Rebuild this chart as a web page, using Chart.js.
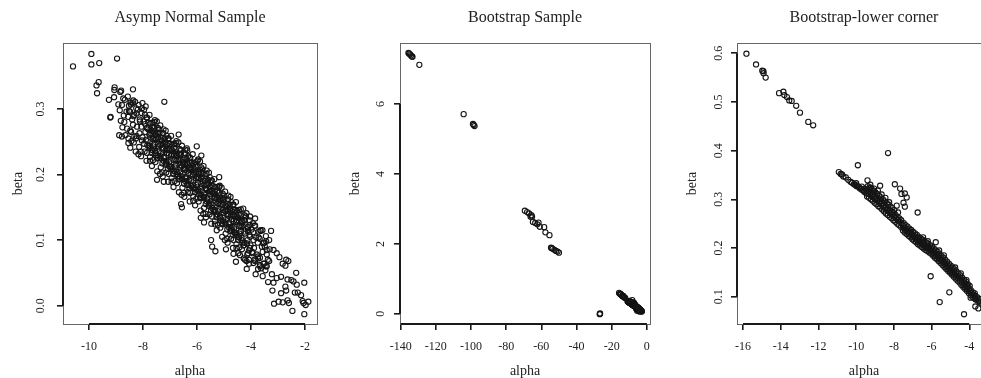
<!DOCTYPE html>
<html>
<head>
<meta charset="utf-8">
<script src="https://cdn.jsdelivr.net/npm/chart.js@4.4.0/dist/chart.umd.min.js"></script>
<style>
html, body { margin: 0; padding: 0; background: #fff; overflow: hidden; width: 981px; height: 378px; }
canvas { position: absolute; top: 0; }
</style>
</head>
<body>
<canvas id="p1" width="330" height="378" style="left:0px"></canvas>
<canvas id="p2" width="330" height="378" style="left:330px"></canvas>
<canvas id="p3" width="340" height="378" style="left:660px"></canvas>
<script>
// ---- data: [alpha, beta] ----
var asympSample = [
  [-10.59,.365],[-9.91,.384],[-9.91,.368],[-9.62,.370],[-8.96,.377],[-9.64,.341],[-9.72,.336],[-9.70,.324],
  [-9.05,.333],[-9.06,.329],[-9.26,.314],[-9.21,.287],[-9.20,.288],[-8.91,.307],[-9.07,.318],[-8.81,.328],
  [-8.37,.330],[-7.21,.311],[-8.78,.258],[-8.46,.310],[-8.02,.309],[-7.90,.304],[-6.01,.243],[-6.38,.240],
  [-6.68,.261],[-5.84,.229],[-7.48,.192],[-7.23,.189],[-6.59,.155],[-6.56,.150],[-5.48,.100],[-5.44,.090],
  [-5.32,.083],[-4.93,.086],[-5.86,.134],[-5.74,.127],[-5.18,.196],[-4.17,.141],[-3.85,.133],[-3.65,.115],
  [-3.26,.114],[-4.16,.056],[-4.56,.067],[-3.83,.048],[-3.57,.045],[-3.17,.035],[-3.21,.023],[-3.15,.003],
  [-2.98,.006],[-2.89,.019],[-2.83,.005],[-2.70,.023],[-2.65,.040],[-2.73,.029],[-2.89,.044],[-2.95,.074],
  [-2.83,.064],[-2.70,.070],[-2.62,.068],[-2.73,.061],[-2.51,.039],[-2.43,.037],[-2.33,.050],[-2.31,.032],
  [-2.38,.020],[-2.27,.020],[-2.15,.016],[-2.47,-.008],[-2.60,.004],[-2.65,.008],[-2.03,.035],[-2.03,-.013],
  [-2.06,.004],[-1.98,.001],[-1.88,.006],[-2.09,.007],[-3.42,.085],[-3.17,.085],[-3.05,.080],[-3.33,.100],
  [-3.49,.090],[-3.74,.075],[-3.91,.065],[-3.67,.060],[-3.42,.060],[-3.23,.048],[-3.05,.042],[-3.38,.070],
  [-4.11,.080],[-4.22,.070],[-4.41,.077],[-4.65,.079],
  [-8.88,.260],[-8.76,.272],[-8.82,.282],[-8.71,.290],[-8.86,.298],[-8.78,.306],[-8.73,.316],[-8.84,.326],
  [-8.54,.248],[-8.65,.260],[-8.59,.270],[-8.69,.280],[-8.55,.288],[-8.61,.296],[-8.52,.305],[-8.67,.314],
  [-8.43,.251],[-8.32,.258],[-8.47,.267],[-8.37,.276],[-8.40,.284],[-8.48,.296],[-8.35,.289],[-8.38,.309],
  [-8.17,.231],[-8.26,.255],[-8.13,.263],[-8.22,.273],[-8.11,.281],[-8.24,.293],[-8.19,.299],[-8.29,.311],
  [-8.08,.235],[-7.96,.247],[-8.02,.257],[-7.91,.265],[-8.06,.273],[-7.98,.281],[-7.93,.291],[-8.04,.301],
  [-7.74,.221],[-7.85,.233],[-7.79,.243],[-7.89,.253],[-7.75,.261],[-7.81,.269],[-7.72,.278],[-7.87,.287],
  [-7.63,.222],[-7.52,.229],[-7.67,.238],[-7.57,.247],[-7.60,.255],[-7.68,.267],[-7.55,.260],[-7.58,.280],
  [-7.37,.201],[-7.46,.225],[-7.33,.233],[-7.42,.243],[-7.31,.251],[-7.44,.263],[-7.39,.269],[-7.49,.281],
  [-7.28,.203],[-7.16,.215],[-7.22,.225],[-7.11,.233],[-7.26,.241],[-7.18,.249],[-7.13,.259],[-7.24,.269],
  [-6.94,.189],[-7.05,.201],[-6.99,.211],[-7.09,.221],[-6.95,.229],[-7.01,.237],[-6.92,.246],[-7.07,.255],
  [-6.83,.190],[-6.72,.197],[-6.87,.206],[-6.77,.215],[-6.80,.223],[-6.88,.235],[-6.75,.228],[-6.78,.248],
  [-6.57,.169],[-6.66,.193],[-6.53,.201],[-6.62,.211],[-6.51,.219],[-6.64,.231],[-6.59,.237],[-6.69,.249],
  [-6.48,.172],[-6.36,.184],[-6.42,.194],[-6.31,.202],[-6.46,.210],[-6.38,.218],[-6.33,.228],[-6.44,.238],
  [-6.14,.160],[-6.25,.172],[-6.19,.182],[-6.29,.192],[-6.15,.200],[-6.21,.208],[-6.12,.217],[-6.27,.226],
  [-6.03,.163],[-5.92,.170],[-6.07,.179],[-5.97,.188],[-6.00,.196],[-6.08,.208],[-5.95,.201],[-5.98,.221],
  [-5.77,.140],[-5.86,.164],[-5.73,.172],[-5.82,.182],[-5.71,.190],[-5.84,.202],[-5.79,.208],[-5.89,.220],
  [-5.68,.140],[-5.56,.152],[-5.62,.162],[-5.51,.170],[-5.66,.178],[-5.58,.186],[-5.53,.196],[-5.64,.206],
  [-5.34,.124],[-5.45,.136],[-5.39,.146],[-5.49,.156],[-5.35,.164],[-5.41,.172],[-5.32,.181],[-5.47,.190],
  [-5.23,.123],[-5.12,.130],[-5.27,.139],[-5.17,.148],[-5.20,.156],[-5.28,.168],[-5.15,.161],[-5.18,.181],
  [-4.97,.100],[-5.06,.124],[-4.93,.132],[-5.02,.142],[-4.91,.150],[-5.04,.162],[-4.99,.168],[-5.09,.180],
  [-4.88,.102],[-4.76,.114],[-4.82,.124],[-4.71,.132],[-4.86,.140],[-4.78,.148],[-4.73,.158],[-4.84,.168],
  [-4.54,.088],[-4.65,.100],[-4.59,.110],[-4.69,.120],[-4.55,.128],[-4.61,.136],[-4.52,.145],[-4.67,.154],
  [-4.43,.089],[-4.32,.096],[-4.47,.105],[-4.37,.114],[-4.40,.122],[-4.48,.134],[-4.35,.127],[-4.38,.147],
  [-4.17,.068],[-4.26,.092],[-4.13,.100],[-4.22,.110],[-4.11,.118],[-4.24,.130],[-4.19,.136],[-4.29,.148],
  [-4.08,.070],[-3.96,.082],[-4.02,.092],[-3.91,.100],[-4.06,.108],[-3.98,.116],[-3.93,.126],[-4.04,.136],
  [-3.74,.056],[-3.85,.068],[-3.79,.078],[-3.89,.088],[-3.75,.096],[-3.81,.104],[-3.72,.113],[-3.87,.122],
  [-3.63,.057],[-3.52,.064],[-3.67,.073],[-3.57,.082],[-3.60,.090],[-3.68,.102],[-3.55,.095],[-3.58,.115],
  [-3.37,.036],[-3.46,.060],[-3.33,.068],[-3.42,.078],[-3.31,.086],[-3.44,.098],
  [-7.68,.233],[-7.75,.244],[-7.64,.254],[-7.72,.263],[-7.66,.272],
  [-7.48,.225],[-7.55,.236],[-7.44,.246],[-7.52,.255],[-7.46,.264],
  [-7.28,.217],[-7.35,.228],[-7.24,.238],[-7.32,.247],[-7.26,.256],
  [-7.08,.209],[-7.15,.220],[-7.04,.230],[-7.12,.239],[-7.06,.248],
  [-6.88,.201],[-6.95,.212],[-6.84,.222],[-6.92,.231],[-6.86,.240],
  [-6.68,.193],[-6.75,.204],[-6.64,.214],[-6.72,.223],[-6.66,.232],
  [-6.48,.186],[-6.55,.197],[-6.44,.207],[-6.52,.216],[-6.46,.225],
  [-6.28,.179],[-6.35,.190],[-6.24,.200],[-6.32,.209],[-6.26,.218],
  [-6.08,.173],[-6.15,.184],[-6.04,.194],[-6.12,.203],[-6.06,.212],
  [-5.88,.165],[-5.95,.176],[-5.84,.186],[-5.92,.195],[-5.86,.204],
  [-5.68,.155],[-5.75,.166],[-5.64,.176],[-5.72,.185],[-5.66,.194],
  [-5.48,.145],[-5.55,.156],[-5.44,.166],[-5.52,.175],[-5.46,.184],
  [-5.28,.135],[-5.35,.146],[-5.24,.156],[-5.32,.165],[-5.26,.174],
  [-5.08,.125],[-5.15,.136],[-5.04,.146],[-5.12,.155],[-5.06,.164],
  [-4.88,.116],[-4.95,.127],[-4.84,.137],[-4.92,.146],[-4.86,.155],
  [-4.68,.108],[-4.75,.119],[-4.64,.129],[-4.72,.138],[-4.66,.147],
  [-4.48,.100],[-4.55,.111],[-4.44,.121],[-4.52,.130],[-4.46,.139],
  [-4.28,.092],[-4.35,.103],[-4.24,.113],[-4.32,.122],[-4.26,.131],
  [-4.08,.084],[-4.15,.095],[-4.04,.105],[-4.12,.114],[-4.06,.123],
  [-7.75,.241],[-7.83,.251],[-7.76,.261],[-7.85,.271],[-7.79,.279],
  [-7.55,.233],[-7.63,.243],[-7.56,.253],[-7.65,.263],[-7.59,.271],
  [-7.35,.225],[-7.43,.235],[-7.36,.245],[-7.45,.255],[-7.39,.263],
  [-7.15,.217],[-7.23,.227],[-7.16,.237],[-7.25,.247],[-7.19,.255],
  [-6.95,.209],[-7.03,.219],[-6.96,.229],[-7.05,.239],[-6.99,.247],
  [-6.75,.201],[-6.83,.211],[-6.76,.221],[-6.85,.231],[-6.79,.239],
  [-6.55,.193],[-6.63,.203],[-6.56,.213],[-6.65,.223],[-6.59,.231],
  [-6.35,.186],[-6.43,.196],[-6.36,.206],[-6.45,.216],[-6.39,.224],
  [-6.15,.180],[-6.23,.190],[-6.16,.200],[-6.25,.210],[-6.19,.218],
  [-5.95,.174],[-6.03,.184],[-5.96,.194],[-6.05,.204],[-5.99,.212],
  [-5.75,.164],[-5.83,.174],[-5.76,.184],[-5.85,.194],[-5.79,.202],
  [-5.55,.154],[-5.63,.164],[-5.56,.174],[-5.65,.184],[-5.59,.192],
  [-5.35,.144],[-5.43,.154],[-5.36,.164],[-5.45,.174],[-5.39,.182],
  [-5.15,.134],[-5.23,.144],[-5.16,.154],[-5.25,.164],[-5.19,.172],
  [-4.95,.124],[-5.03,.134],[-4.96,.144],[-5.05,.154],[-4.99,.162],
  [-4.75,.116],[-4.83,.126],[-4.76,.136],[-4.85,.146],[-4.79,.154],
  [-4.55,.108],[-4.63,.118],[-4.56,.128],[-4.65,.138],[-4.59,.146],
  [-4.35,.100],[-4.43,.110],[-4.36,.120],[-4.45,.130],[-4.39,.138],
  [-8.47,.241],[-8.54,.255],[-8.44,.265],[-8.52,.297],[-8.45,.307],[-8.56,.319],
  [-8.27,.235],[-8.34,.249],[-8.24,.259],[-8.32,.291],[-8.25,.301],[-8.36,.313],
  [-8.07,.228],[-8.14,.242],[-8.04,.252],[-8.12,.284],[-8.05,.294],[-8.16,.306],
  [-7.87,.221],[-7.94,.235],[-7.84,.245],[-7.92,.277],[-7.85,.287],[-7.96,.299],
  [-7.67,.213],[-7.74,.227],[-7.64,.237],[-7.72,.269],[-7.65,.279],[-7.76,.291],
  [-7.47,.205],[-7.54,.219],[-7.44,.229],[-7.52,.261],[-7.45,.271],[-7.56,.283],
  [-7.27,.197],[-7.34,.211],[-7.24,.221],[-7.32,.253],[-7.25,.263],[-7.36,.275],
  [-7.07,.189],[-7.14,.203],[-7.04,.213],[-7.12,.245],[-7.05,.255],[-7.16,.267],
  [-6.87,.181],[-6.94,.195],[-6.84,.205],[-6.92,.237],[-6.85,.247],[-6.96,.259],
  [-6.67,.173],[-6.74,.187],[-6.64,.197],[-6.72,.229],[-6.65,.239],[-6.76,.251],
  [-6.47,.166],[-6.54,.180],[-6.44,.190],[-6.52,.222],[-6.45,.232],[-6.56,.244],
  [-6.27,.159],[-6.34,.173],[-6.24,.183],[-6.32,.215],[-6.25,.225],[-6.36,.237],
  [-6.07,.153],[-6.14,.167],[-6.04,.177],[-6.12,.209],[-6.05,.219],[-6.16,.231],
  [-5.87,.145],[-5.94,.159],[-5.84,.169],[-5.92,.201],[-5.85,.211],[-5.96,.223],
  [-5.67,.135],[-5.74,.149],[-5.64,.159],[-5.72,.191],[-5.65,.201],[-5.76,.213],
  [-5.47,.125],[-5.54,.139],[-5.44,.149],[-5.52,.181],[-5.45,.191],[-5.56,.203],
  [-5.27,.115],[-5.34,.129],[-5.24,.139],[-5.32,.171],[-5.25,.181],[-5.36,.193],
  [-5.07,.105],[-5.14,.119],[-5.04,.129],[-5.12,.161],[-5.05,.171],[-5.16,.183],
  [-4.87,.096],[-4.94,.110],[-4.84,.120],[-4.92,.152],[-4.85,.162],[-4.96,.174],
  [-4.67,.088],[-4.74,.102],[-4.64,.112],[-4.72,.144],[-4.65,.154],[-4.76,.166],
  [-4.47,.080],[-4.54,.094],[-4.44,.104],[-4.52,.136],[-4.45,.146],[-4.56,.158],
  [-4.27,.072],[-4.34,.086],[-4.24,.096],[-4.32,.128],[-4.25,.138],
  [-4.07,.064],[-4.14,.078],[-4.04,.088],[-4.12,.120],[-4.05,.130],
  [-3.87,.070],[-3.94,.080],[-3.92,.112],[-3.85,.122],
  [-3.67,.062],[-3.74,.072],[-3.72,.104],[-3.65,.114],
  [-3.47,.054],[-3.54,.064],[-3.52,.096],[-3.45,.106]
];

var bootstrapCorner = [
  [-15.82,.599],[-15.31,.577],[-14.98,.564],[-14.92,.563],[-14.91,.559],[-14.80,.550],[-14.09,.518],[-13.86,.521],
  [-13.81,.514],[-13.67,.510],[-13.55,.503],[-13.42,.502],[-13.18,.492],[-12.98,.478],[-12.54,.459],[-12.28,.452],
  [-8.31,.395],[-9.91,.370],[-9.40,.339],[-8.73,.328],[-9.22,.324],[-7.95,.331],[-7.67,.322],[-7.60,.311],
  [-7.42,.312],[-7.32,.304],[-7.85,.287],[-7.49,.293],[-7.42,.285],[-6.74,.273],[-7.78,.273],[-5.78,.212],
  [-6.05,.142],[-5.06,.109],[-5.57,.089],[-4.28,.064],[-3.68,.080],[-3.52,.076],[-3.68,.095],[-3.93,.098],
  [-10.92,.356],[-10.82,.352],[-10.75,.351],[-10.68,.347],[-10.55,.345],[-10.42,.340],[-10.30,.336],[-10.22,.334],
  [-10.12,.331],[-10.05,.330],[-9.98,.327],[-9.92,.327],[-9.85,.325],[-9.80,.322],[-9.74,.322],[-9.68,.319],
  [-9.62,.318],[-9.56,.315],[-9.50,.316],[-9.45,.312],
  [-10.00,.333],[-9.70,.326],[-9.55,.322],
  [-9.42,.306],[-9.39,.313],[-9.41,.320],[-9.38,.327],[-9.32,.303],[-9.29,.310],[-9.31,.317],[-9.28,.324],
  [-9.22,.300],[-9.19,.307],[-9.21,.314],[-9.18,.321],[-9.12,.297],[-9.09,.304],[-9.11,.311],[-9.08,.318],
  [-9.02,.293],[-8.99,.300],[-9.01,.307],[-8.98,.314],[-8.92,.290],[-8.89,.297],[-8.91,.304],[-8.88,.311],
  [-8.82,.286],[-8.79,.293],[-8.81,.300],[-8.78,.307],[-8.72,.283],[-8.69,.290],[-8.71,.297],[-8.68,.304],
  [-8.62,.279],[-8.59,.286],[-8.61,.293],[-8.58,.300],[-8.52,.275],[-8.49,.282],[-8.51,.289],[-8.48,.296],
  [-8.42,.271],[-8.39,.278],[-8.41,.285],[-8.38,.292],[-8.32,.268],[-8.29,.275],[-8.31,.282],[-8.28,.289],
  [-8.22,.264],[-8.19,.271],[-8.21,.278],[-8.18,.285],[-8.12,.261],[-8.09,.268],[-8.11,.275],[-8.08,.282],
  [-8.02,.257],[-7.99,.264],[-8.01,.271],[-7.98,.278],[-7.92,.254],[-7.89,.261],[-7.91,.268],
  [-7.82,.250],[-7.79,.257],[-7.81,.264],[-7.72,.247],[-7.69,.254],[-7.71,.261],
  [-7.62,.243],[-7.59,.250],[-7.61,.257],
  [-9.25,.330],[-9.05,.322],[-8.85,.318],[-8.65,.310],[-8.45,.303],[-8.25,.294],
  [-7.52,.236],[-7.49,.241],[-7.51,.246],[-7.48,.251],[-7.42,.232],[-7.39,.237],[-7.41,.242],[-7.38,.247],
  [-7.32,.229],[-7.29,.234],[-7.31,.239],[-7.28,.244],[-7.22,.225],[-7.19,.230],[-7.21,.235],[-7.18,.240],
  [-7.12,.222],[-7.09,.227],[-7.11,.232],[-7.08,.237],[-7.02,.218],[-6.99,.223],[-7.01,.228],[-6.98,.233],
  [-6.92,.215],[-6.89,.220],[-6.91,.225],[-6.88,.230],[-6.82,.212],[-6.79,.217],[-6.81,.222],[-6.78,.227],
  [-6.72,.208],[-6.69,.213],[-6.71,.218],[-6.68,.223],[-6.62,.205],[-6.59,.210],[-6.61,.215],[-6.58,.220],
  [-6.52,.202],[-6.49,.207],[-6.51,.212],[-6.48,.217],[-6.42,.199],[-6.39,.204],[-6.41,.209],[-6.38,.214],
  [-6.32,.196],[-6.29,.201],[-6.31,.206],[-6.28,.211],[-6.22,.194],[-6.19,.199],[-6.21,.204],[-6.18,.209],
  [-6.12,.191],[-6.09,.196],[-6.11,.201],[-6.08,.206],[-6.02,.188],[-5.99,.193],[-6.01,.198],[-5.98,.203],
  [-5.92,.184],[-5.89,.189],[-5.91,.194],[-5.88,.199],[-5.82,.180],[-5.79,.185],[-5.81,.190],[-5.78,.195],
  [-5.72,.177],[-5.69,.182],[-5.71,.187],[-5.68,.192],[-5.62,.173],[-5.59,.178],[-5.61,.183],[-5.58,.188],
  [-5.52,.169],[-5.49,.174],[-5.51,.179],[-5.48,.184],[-5.42,.165],[-5.39,.170],[-5.41,.175],[-5.38,.180],
  [-5.32,.161],[-5.29,.166],[-5.31,.171],[-5.28,.176],[-5.22,.157],[-5.19,.162],[-5.21,.167],[-5.18,.172],
  [-5.12,.153],[-5.09,.158],[-5.11,.163],[-5.08,.168],[-5.02,.149],[-4.99,.154],[-5.01,.159],[-4.98,.164],
  [-4.92,.145],[-4.89,.150],[-4.91,.155],[-4.88,.160],[-4.82,.141],[-4.79,.146],[-4.81,.151],[-4.78,.156],
  [-4.72,.137],[-4.69,.142],[-4.71,.147],[-4.68,.152],[-4.62,.133],[-4.59,.138],[-4.61,.143],[-4.58,.148],
  [-4.52,.129],[-4.49,.134],[-4.51,.139],[-4.48,.144],[-4.42,.124],[-4.39,.129],[-4.41,.134],[-4.38,.139],
  [-4.32,.120],[-4.29,.125],[-4.31,.130],[-4.28,.135],[-4.22,.116],[-4.19,.121],[-4.21,.126],[-4.18,.131],
  [-4.12,.112],[-4.09,.117],[-4.11,.122],[-4.08,.126],[-4.02,.107],[-3.99,.112],[-4.01,.117],[-3.98,.122],
  [-3.92,.103],[-3.89,.108],[-3.91,.113],[-3.82,.099],[-3.79,.104],[-3.81,.109],
  [-3.72,.097],[-3.69,.102],[-3.71,.107],[-3.62,.094],[-3.59,.099],[-3.52,.091],[-3.49,.096],
  [-3.42,.088],[-3.39,.092],[-3.31,.085],[-3.21,.081],[-3.10,.078],[-3.00,.075],[-2.85,.070],
  [-6.45,.222],[-6.20,.214],[-5.60,.195],[-5.35,.185],[-4.75,.160],[-4.45,.148],[-4.15,.134]
];

var bootstrapFar = [
  [-135.6,7.46],[-135.2,7.44],[-134.7,7.42],[-134.2,7.39],[-133.6,7.36],[-133.3,7.35],[-129.4,7.12],
  [-104.2,5.71],[-98.9,5.43],[-98.5,5.40],[-98.0,5.37],
  [-69.4,2.95],[-68.1,2.91],[-67.0,2.87],[-65.7,2.82],[-66.1,2.78],[-65.3,2.78],[-64.8,2.63],[-63.5,2.60],
  [-62.3,2.56],[-61.6,2.61],[-60.9,2.49],[-58.4,2.48],[-57.7,2.33],[-55.4,2.25],
  [-54.5,1.89],[-54.1,1.88],[-53.6,1.86],[-52.6,1.83],[-51.7,1.80],[-50.8,1.78],[-50.0,1.75],
  [-26.8,-0.01],[-26.7,0.0],[-26.6,0.01]
];
var bootstrapSample = bootstrapCorner.concat(bootstrapFar);

var asympXTicks = [-10, -8, -6, -4, -2];
var asympYTicks = [0, 0.1, 0.2, 0.3];
var asympYLabels = ['0.0', '0.1', '0.2', '0.3'];
var bootXTicks = [-140, -120, -100, -80, -60, -40, -20, 0];
var bootYTicks = [0, 2, 4, 6];
var bootYLabels = ['0', '2', '4', '6'];
var cornerXTicks = [-16, -14, -12, -10, -8, -6, -4];
var cornerYTicks = [0.1, 0.2, 0.3, 0.4, 0.5, 0.6];
var cornerYLabels = ['0.1', '0.2', '0.3', '0.4', '0.5', '0.6'];

var serif = '"Liberation Serif", "Times New Roman", serif';

// R style frame: thin box plus heavier axis lines between the end ticks
var rFrame = {
    id: 'rFrame',
    afterDraw: function (chart) {
        var ctx = chart.ctx, a = chart.chartArea;
        var xs = chart.scales.x, ys = chart.scales.y;
        ctx.save();
        ctx.strokeStyle = '#666';
        ctx.lineWidth = 1;
        ctx.strokeRect(Math.round(a.left) + 0.5, Math.round(a.top) + 0.5,
            Math.round(a.right - a.left), Math.round(a.bottom - a.top));
        ctx.strokeStyle = '#1a1a1a';
        ctx.lineWidth = 2;
        ctx.beginPath();
        ctx.moveTo(xs.getPixelForValue(xs.ticks[0].value), a.bottom);
        ctx.lineTo(xs.getPixelForValue(xs.ticks[xs.ticks.length - 1].value), a.bottom);
        ctx.moveTo(a.left, ys.getPixelForValue(ys.ticks[0].value));
        ctx.lineTo(a.left, ys.getPixelForValue(ys.ticks[ys.ticks.length - 1].value));
        ctx.stroke();
        ctx.restore();
    }
};

function makePanel(id, title, pts, xMin, xMax, yMin, yMax, xTicks, yTicks, yLabels, boxLeft, boxRight, yPad) {
    var canvas = document.getElementById(id);
    return new Chart(canvas, {
        type: 'scatter',
        data: {
            datasets: [{
                data: pts.map(function (p) { return { x: p[0], y: p[1] }; }),
                pointRadius: 2.6,
                pointBorderWidth: 1.1,
                pointBorderColor: '#151515',
                pointBackgroundColor: 'rgba(0,0,0,0)',
                clip: 6
            }]
        },
        options: {
            responsive: false,
            animation: false,
            layout: { padding: { left: 0, right: canvas.width - boxRight, top: 0, bottom: 0 } },
            plugins: {
                legend: { display: false },
                tooltip: { enabled: false },
                title: {
                    display: true, text: title, fullSize: false, color: '#222',
                    font: { family: serif, size: 16, weight: 'normal' },
                    padding: { top: 8.6, bottom: 15.2 }
                }
            },
            scales: {
                x: {
                    type: 'linear', min: xMin, max: xMax,
                    afterBuildTicks: function (s) { s.ticks = xTicks.map(function (v) { return { value: v }; }); },
                    afterFit: function (s) { s.height = 54; },
                    border: { display: false },
                    grid: { drawOnChartArea: false, tickLength: 6, lineWidth: 1.6, color: '#1a1a1a' },
                    ticks: { autoSkip: false, maxRotation: 0, padding: 10, color: '#222', font: { family: serif, size: 12 } },
                    title: { display: true, text: 'alpha', color: '#222', font: { family: serif, size: 14, lineHeight: 1 }, padding: { top: 0, bottom: 0 } }
                },
                y: {
                    type: 'linear', min: yMin, max: yMax,
                    afterBuildTicks: function (s) { s.ticks = yTicks.map(function (v) { return { value: v }; }); },
                    afterFit: function (s) { s.width = boxLeft; },
                    border: { display: false },
                    grid: { drawOnChartArea: false, tickLength: 6, lineWidth: 1.6, color: '#1a1a1a' },
                    ticks: {
                        autoSkip: false, minRotation: 90, maxRotation: 90, crossAlign: 'center', padding: yPad,
                        color: '#222', font: { family: serif, size: 12 },
                        callback: function (v, i) { return yLabels[i]; }
                    },
                    title: { display: true, text: 'beta', color: '#222', font: { family: serif, size: 14 }, padding: { top: boxLeft - 53.4, bottom: 0 } }
                }
            }
        },
        plugins: [rFrame]
    });
}

makePanel('p1', 'Asymp Normal Sample', asympSample, -10.96, -1.56, -0.028, 0.4007,
    asympXTicks, asympYTicks, asympYLabels, 63, 317, 9);
makePanel('p2', 'Bootstrap Sample', bootstrapSample, -140.4, 1.85, -0.29, 7.745,
    bootXTicks, bootYTicks, bootYLabels, 70, 324, 10);
makePanel('p3', 'Bootstrap-lower corner', bootstrapCorner, -16.32, -2.85, 0.044, 0.621,
    cornerXTicks, cornerYTicks, cornerYLabels, 77, 331, 5);
</script>
</body>
</html>
